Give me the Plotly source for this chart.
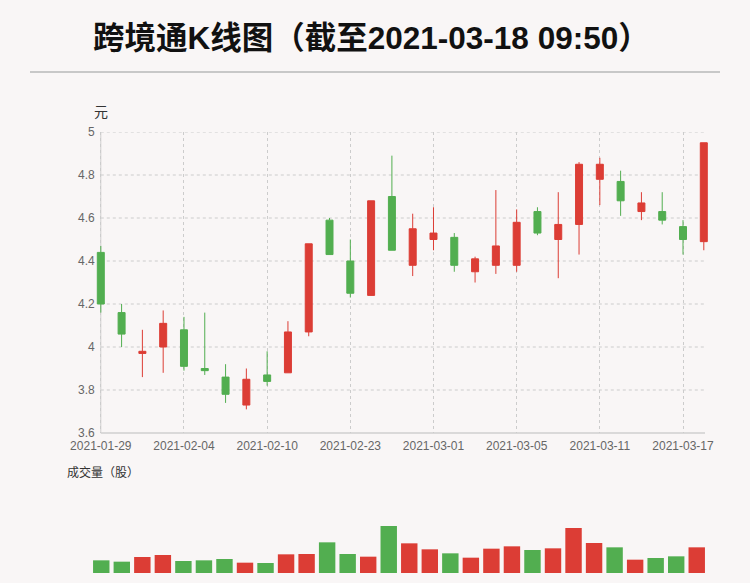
import plotly.graph_objects as go

W, H = 750, 583

dates = ["2021-01-29", "2021-02-01", "2021-02-02", "2021-02-03", "2021-02-04",
         "2021-02-05", "2021-02-08", "2021-02-09", "2021-02-10", "2021-02-18",
         "2021-02-19", "2021-02-22", "2021-02-23", "2021-02-24", "2021-02-25",
         "2021-02-26", "2021-03-01", "2021-03-02", "2021-03-03", "2021-03-04",
         "2021-03-05", "2021-03-08", "2021-03-09", "2021-03-10", "2021-03-11",
         "2021-03-12", "2021-03-15", "2021-03-16", "2021-03-17", "2021-03-18"]
open_p = [4.44, 4.16, 3.97, 4.00, 4.08, 3.90, 3.86, 3.73, 3.87, 3.88,
          4.07, 4.59, 4.40, 4.24, 4.70, 4.38, 4.50, 4.51, 4.35, 4.38,
          4.38, 4.63, 4.50, 4.57, 4.78, 4.77, 4.63, 4.63, 4.56, 4.49]
close_p = [4.20, 4.06, 3.98, 4.11, 3.91, 3.89, 3.78, 3.85, 3.84, 4.07,
           4.48, 4.43, 4.25, 4.68, 4.45, 4.55, 4.53, 4.38, 4.41, 4.47,
           4.58, 4.53, 4.57, 4.85, 4.85, 4.68, 4.67, 4.59, 4.50, 4.95]
high_p = [4.47, 4.20, 4.08, 4.17, 4.14, 4.16, 3.92, 3.90, 3.98, 4.12,
          4.48, 4.60, 4.50, 4.68, 4.89, 4.62, 4.65, 4.53, 4.42, 4.73,
          4.64, 4.65, 4.72, 4.86, 4.88, 4.82, 4.72, 4.72, 4.59, 4.95]
low_p = [4.16, 4.00, 3.86, 3.88, 3.89, 3.87, 3.74, 3.71, 3.82, 3.88,
         4.05, 4.43, 4.23, 4.24, 4.45, 4.33, 4.45, 4.35, 4.30, 4.34,
         4.35, 4.52, 4.32, 4.43, 4.66, 4.61, 4.59, 4.57, 4.43, 4.45]
volume = [38, 34, 48, 54, 36, 38, 42, 31, 30, 56,
          57, 92, 57, 49, 141, 89, 71, 59, 46, 73,
          80, 69, 74, 135, 90, 77, 40, 45, 50, 77]

y_ticks = [3.6, 3.8, 4.0, 4.2, 4.4, 4.6, 4.8, 5.0]
y_tick_text = ["3.6", "3.8", "4", "4.2", "4.4", "4.6", "4.8", "5"]
x_tick_dates = dates[::4]

RED = "#dc3d35"
GREEN = "#52ae50"
BG = "#f9f6f6"
GRID = "#cccccc"
TICK = "#666666"

def px(x):
    return x / W

def py(y):
    return 1 - y / H

vol_colors = [RED if c >= o else GREEN for o, c in zip(open_p, close_p)]

fig = go.Figure()
fig.add_trace(go.Candlestick(
    x=dates, open=open_p, high=high_p, low=low_p, close=close_p,
    increasing=dict(line=dict(color=RED, width=1), fillcolor=RED),
    decreasing=dict(line=dict(color=GREEN, width=1), fillcolor=GREEN),
    whiskerwidth=0, xaxis="x", yaxis="y", showlegend=False,
))
fig.add_trace(go.Bar(
    x=dates, y=volume, marker=dict(color=vol_colors, line=dict(width=0)),
    xaxis="x2", yaxis="y2", showlegend=False,
))

x_first, x_last = 100.8, 703.8
step = (x_last - x_first) / (len(dates) - 1)
pad = 0.4
dom_l = x_first - pad * step
dom_r = x_last + pad * step
y_top, y_bot = 132, 433

fig.update_layout(
    width=W, height=H, autosize=False,
    margin=dict(l=0, r=0, t=0, b=0, pad=0),
    paper_bgcolor=BG, plot_bgcolor="rgba(0,0,0,0)",
    font=dict(family="Liberation Sans, Noto Sans CJK SC, sans-serif", color=TICK, size=12),
    boxgap=0.52,
    bargap=0.2,
    xaxis=dict(
        type="category", domain=[px(dom_l), px(dom_r)], range=[-pad, len(dates) - 1 + pad],
        rangeslider=dict(visible=False), tickmode="array", tickvals=x_tick_dates,
        ticktext=x_tick_dates, showgrid=True, gridcolor=GRID, griddash="3px,3px",
        gridwidth=1, showline=False, zeroline=False, ticks="", anchor="y",
        tickfont=dict(size=12, color=TICK), ticklabelstandoff=4, automargin=False,
    ),
    yaxis=dict(
        domain=[py(y_bot), py(y_top)], range=[3.6, 5.0], tickmode="array",
        tickvals=y_ticks, ticktext=y_tick_text, showgrid=False, zeroline=False,
        showline=False, ticks="", anchor="free", position=px(x_first),
        tickfont=dict(size=12, color=TICK), ticklabelstandoff=6, automargin=False,
    ),
    xaxis2=dict(
        type="category", domain=[px(91), px(707)], range=[-0.5, len(dates) - 0.5],
        visible=False, anchor="y2", automargin=False,
    ),
    yaxis2=dict(
        domain=[py(573), py(480)], range=[0, 279], visible=False, anchor="x2",
        automargin=False,
    ),
)

shapes = []
for v in y_ticks[1:]:
    shapes.append(dict(type="line", xref="paper", yref="y", x0=px(x_first), x1=px(x_last),
                       y0=v, y1=v, line=dict(color=GRID, width=1, dash="3px,3px"), layer="below"))
shapes.append(dict(type="line", xref="paper", yref="paper", x0=px(x_first), x1=px(x_first),
                   y0=py(y_bot), y1=py(y_top), line=dict(color="#cfcfcf", width=1), layer="below"))
shapes.append(dict(type="line", xref="paper", yref="paper", x0=px(x_first), x1=px(705),
                   y0=py(y_bot), y1=py(y_bot), line=dict(color="#cfcfcf", width=1.5), layer="below"))
shapes.append(dict(type="line", xref="paper", yref="paper", x0=px(30), x1=px(720),
                   y0=py(72), y1=py(72), line=dict(color="#c8c8c8", width=2)))
fig.update_layout(shapes=shapes)

fig.add_annotation(text="<b>跨境通K线图（截至2021-03-18 09:50）</b>", xref="paper", yref="paper",
                   x=px(371), y=py(38), xanchor="center", yanchor="middle", showarrow=False,
                   font=dict(size=31.5, color="#111111", family="Liberation Sans, Noto Sans CJK SC"))
fig.add_annotation(text="元", xref="paper", yref="paper", x=px(101), y=py(111),
                   xanchor="center", yanchor="middle", showarrow=False,
                   font=dict(size=14, color="#333333", family="Noto Sans CJK SC"))
fig.add_annotation(text="成交量（股）", xref="paper", yref="paper", x=px(65), y=py(471),
                   xanchor="left", yanchor="middle", showarrow=False,
                   font=dict(size=12, color="#333333", family="Noto Sans CJK SC"))

fig.write_html("out.html", config={"displayModeBar": False},
               post_script="document.body.style.margin='0';document.body.style.padding='0';")
